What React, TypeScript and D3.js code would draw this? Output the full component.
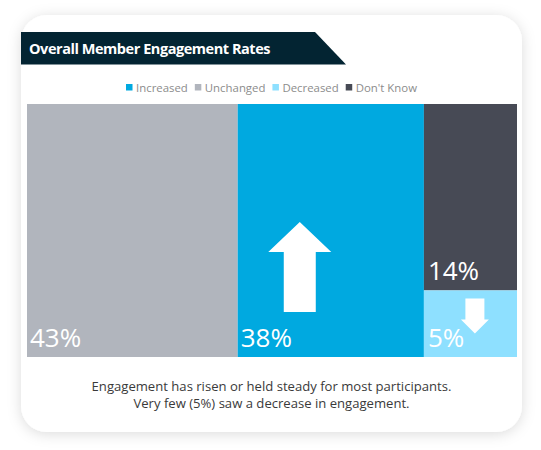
import React, { useEffect, useRef } from 'react';
import * as d3 from 'd3';

// legend order
const legendLabels = ['Increased', 'Unchanged', 'Decreased', "Don't Know"];
const legendColors = ['#00a9e0', '#b1b5bd', '#8ee0ff', '#474a55'];

// columns left to right (width = share of total)
const columnNames = ['Unchanged', 'Increased', 'Other'];
const columnValues = [43, 38, 19];

// the last column is stacked top to bottom
const stackNames = ["Don't Know", 'Decreased'];
const stackValues = [14, 5];

const title = 'Overall Member Engagement Rates';
const footerLines = [
  'Engagement has risen or held steady for most participants.',
  'Very few (5%) saw a decrease in engagement.',
];

const FONT = "'Open Sans', 'Noto Sans', sans-serif";

export default function App() {
  const svgRef = useRef<SVGSVGElement>(null);

  useEffect(() => {
    if (!svgRef.current) return;
    drawChart();
  }, []);

  const drawChart = () => {
    const svg = d3.select(svgRef.current);
    svg.selectAll('*').remove();

    const W = 541;
    const H = 450;
    svg.attr('width', W).attr('height', H);

    const color = d3.scaleOrdinal<string>().domain(legendLabels).range(legendColors);

    // shadow filter
    const defs = svg.append('defs');
    const f = defs
      .append('filter')
      .attr('id', 'shadow')
      .attr('x', '-10%')
      .attr('y', '-10%')
      .attr('width', '120%')
      .attr('height', '120%');
    f.append('feDropShadow')
      .attr('dx', 0)
      .attr('dy', 2)
      .attr('stdDeviation', 7)
      .attr('flood-color', '#000')
      .attr('flood-opacity', 0.14);

    // card
    const card = { x: 21, y: 15, w: 501, h: 417 };
    svg
      .append('rect')
      .attr('x', card.x)
      .attr('y', card.y)
      .attr('width', card.w)
      .attr('height', card.h)
      .attr('rx', 26)
      .attr('fill', '#fff')
      .attr('filter', 'url(#shadow)');

    // title banner
    svg
      .append('path')
      .attr('d', `M${card.x},32 L315,32 L346,64.5 L${card.x},64.5 Z`)
      .attr('fill', '#032432');
    svg
      .append('text')
      .attr('x', 29)
      .attr('y', 54)
      .style('font-family', FONT)
      .style('font-weight', 700)
      .style('font-size', '14.5px')
      .style('letter-spacing', '-0.45px')
      .style('fill', '#fff')
      .text(title);

    // legend
    const legend = svg.append('g');
    let lx = 0;
    legendLabels.forEach((label) => {
      legend
        .append('rect')
        .attr('x', lx)
        .attr('y', 84)
        .attr('width', 6.5)
        .attr('height', 6.5)
        .attr('fill', color(label));
      const t = legend
        .append('text')
        .attr('x', lx + 10)
        .attr('y', 92)
        .style('font-family', FONT)
        .style('font-size', '11.4px')
        .style('fill', '#8c8c8c')
        .text(label);
      const tw = (t.node() as SVGTextElement).getComputedTextLength();
      lx += 10 + tw + 7;
    });
    const legendW = lx - 7;
    legend.attr('transform', `translate(${card.x + card.w / 2 - legendW / 2},0)`);

    // plot area
    const top = 104;
    const bottom = 357;
    const x = d3.scaleLinear().domain([0, 100]).range([27, 517]);
    const stackTotal = d3.sum(stackValues);
    const y = d3.scaleLinear().domain([0, stackTotal]).range([top, bottom]);

    const starts = d3.cumsum([0, ...columnValues]);

    const labelStyle = (sel: any) =>
      sel
        .style('font-family', FONT)
        .style('font-weight', 400)
        .style('font-size', '26px')
        .style('fill', '#fff');

    columnNames.forEach((name, i) => {
      const x0 = x(starts[i]);
      const x1 = x(starts[i] + columnValues[i]);
      if (name !== 'Other') {
        svg
          .append('rect')
          .attr('x', x0)
          .attr('y', top)
          .attr('width', x1 - x0)
          .attr('height', bottom - top)
          .attr('fill', color(name));
        if (name === 'Increased') {
          // up arrow
          const cx = x0 + (x1 - x0) / 3;
          const b = bottom - 45;
          const hb = b - 60;
          const tip = b - 90;
          svg
            .append('path')
            .attr(
              'd',
              `M${cx - 16},${b} L${cx - 16},${hb} L${cx - 31.5},${hb} L${cx},${tip} L${cx + 31.5},${hb} L${cx + 16},${hb} L${cx + 16},${b} Z`
            )
            .attr('fill', '#fff');
        }
        svg
          .append('text')
          .attr('x', x0 + 3)
          .attr('y', bottom - 10)
          .call(labelStyle)
          .text(`${columnValues[i]}%`);
      } else {
        const ys = d3.cumsum([0, ...stackValues]);
        stackNames.forEach((sn, j) => {
          const y0 = y(ys[j]);
          const y1 = y(ys[j] + stackValues[j]);
          svg
            .append('rect')
            .attr('x', x0)
            .attr('y', y0)
            .attr('width', x1 - x0)
            .attr('height', y1 - y0)
            .attr('fill', color(sn));
          if (sn === 'Decreased') {
            // down arrow
            const cx = x0 + 51;
            const t0 = y0 + 8;
            const hb = t0 + 21;
            const tip = t0 + 35;
            svg
              .append('path')
              .attr(
                'd',
                `M${cx - 9.5},${t0} L${cx + 9.5},${t0} L${cx + 9.5},${hb} L${cx + 14},${hb} L${cx},${tip} L${cx - 14},${hb} L${cx - 9.5},${hb} Z`
              )
              .attr('fill', '#fff');
          }
          svg
            .append('text')
            .attr('x', x0 + 4)
            .attr('y', y1 - 10)
            .call(labelStyle)
            .text(`${stackValues[j]}%`);
        });
      }
    });

    // footer
    footerLines.forEach((line, i) => {
      svg
        .append('text')
        .attr('x', card.x + card.w / 2)
        .attr('y', 391 + i * 17)
        .attr('text-anchor', 'middle')
        .style('font-family', FONT)
        .style('font-size', '13.1px')
        .style('fill', '#3a3a3a')
        .text(line);
    });
  };

  return (
    <svg
      ref={svgRef}
      style={{ position: 'absolute', left: 0, top: 0, display: 'block' }}
    ></svg>
  );
}
